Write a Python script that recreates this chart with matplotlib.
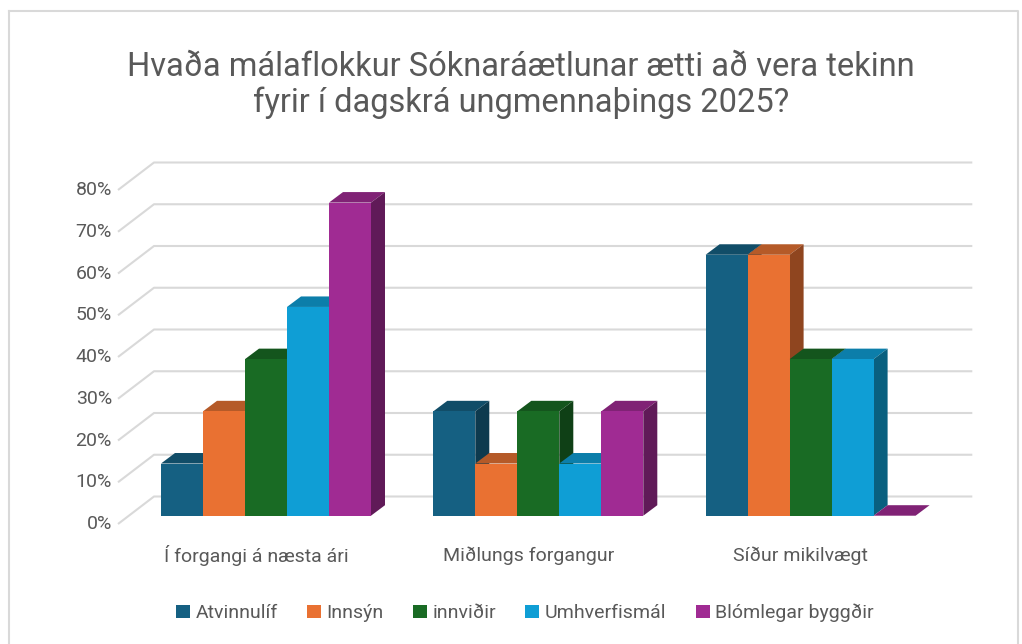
#!/usr/bin/env python3
# -*- coding: UTF-8 -*-

import matplotlib
matplotlib.use("Agg")
import matplotlib.pyplot as plt

title = "Hvaða málaflokkur Sóknaráætlunar ætti að vera tekinn\nfyrir í dagskrá ungmennaþings 2025?"
categories = ["Í forgangi á næsta ári", "Miðlungs forgangur", "Síður mikilvægt"]
series_names = ["Atvinnulíf", "Innsýn", "innviðir", "Umhverfismál", "Blómlegar byggðir"]
atvinnulif = [12.5, 25, 62.5]
innsyn = [25, 12.5, 62.5]
innvidir = [37.5, 25, 37.5]
umhverfismal = [50, 12.5, 37.5]
blomlegar = [75, 25, 0]
y_ticks = [0, 10, 20, 30, 40, 50, 60, 70, 80]

front_colors = ["#156082", "#E97132", "#196B24", "#0F9ED5", "#A02B93"]
top_colors = ["#114D68", "#B55A28", "#14551D", "#0C7EAA", "#802275"]
side_colors = ["#0D3A4E", "#8F451F", "#0F4016", "#09607F", "#601A58"]

text_color = "#595959"
grid_color = "#D9D9D9"

W, H = 1022, 644
PX_X = 272.3   # pixels per category
PX_Y = 4.175   # pixels per percent
X0 = 266.0     # pixel of first group centre
Y0 = 515.7     # pixel of the bar base

plt.rcParams['font.family'] = ['Roboto', 'DejaVu Sans']

fig = plt.figure(figsize=(W / 100, H / 100), dpi=100)
ax = fig.add_axes([0, 0, 1, 1])
ax.set_xlim((0 - X0) / PX_X, (W - X0) / PX_X)
ax.set_ylim((Y0 - H) / PX_Y, Y0 / PX_Y)
ax.axis("off")

bar_w = 42 / PX_X
depth_x = 14 / PX_X
depth_y = 10.5 / PX_Y

# chart frame
frame_x = [(9 - X0) / PX_X, (1018 - X0) / PX_X, (1018 - X0) / PX_X, (9 - X0) / PX_X, (9 - X0) / PX_X]
frame_y = [(Y0 - 11) / PX_Y, (Y0 - 11) / PX_Y, (Y0 - 660) / PX_Y, (Y0 - 660) / PX_Y, (Y0 - 11) / PX_Y]
ax.plot(frame_x, frame_y, color=grid_color, lw=1.5, zorder=1)

# floor and wall grid lines
wall_left = (154 - X0) / PX_X
wall_right = (972.3 - X0) / PX_X
front_left = (118 - X0) / PX_X
wall_shift = 19.2 / PX_Y
front_shift = -8.3 / PX_Y
for t in y_ticks:
    ax.plot([front_left, wall_left, wall_right],
            [t + front_shift, t + wall_shift, t + wall_shift],
            color=grid_color, lw=1.5, zorder=1, solid_capstyle="butt")
    ax.text((112 - X0) / PX_X, t + front_shift, "{}%".format(t), color=text_color,
            fontsize=14, ha="right", va="center")

all_series = [atvinnulif, innsyn, innvidir, umhverfismal, blomlegar]
handles = []
z = 2
for g in range(len(categories)):
    for s, values in enumerate(all_series):
        v = values[g]
        x = g + (s - 2.5) * bar_w
        x2 = x + bar_w
        ax.fill([x, x2, x2 + depth_x, x + depth_x], [v, v, v + depth_y, v + depth_y],
                color=top_colors[s], lw=0, zorder=z)
        ax.fill([x2, x2 + depth_x, x2 + depth_x, x2], [0, depth_y, v + depth_y, v],
                color=side_colors[s], lw=0, zorder=z)
        b = ax.bar(x, v, width=bar_w, align="edge", color=front_colors[s], lw=0, zorder=z + 1)
        if g == 0:
            handles.append(b[0])
        z += 2
    ax.text(g - 10 / PX_X, (Y0 - 556) / PX_Y, categories[g], color=text_color,
            fontsize=14, ha="center", va="center")

fig.text(521 / W, 1 - 85 / H, title, color=text_color, fontsize=23.5, ha="center", va="center",
         linespacing=1.15)

fig.legend(handles, series_names, ncol=5, frameon=False, fontsize=14, labelcolor=text_color,
           loc="center", bbox_to_anchor=(525 / W, 1 - 613 / H),
           handlelength=0.72, handleheight=0.72, handletextpad=0.28, columnspacing=1.5)

fig.savefig("out.png", dpi=100)
